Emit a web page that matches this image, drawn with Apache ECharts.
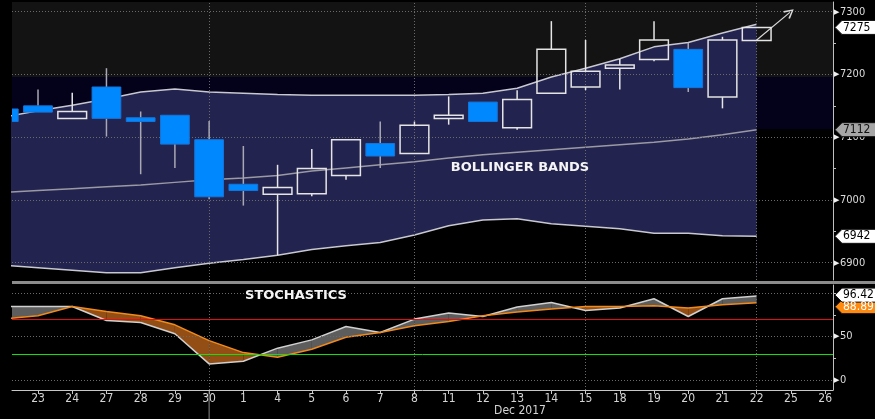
<!DOCTYPE html>
<html><head><meta charset="utf-8">
<script src="https://cdn.jsdelivr.net/npm/echarts@6/dist/echarts.min.js"></script>
<style>html,body{margin:0;padding:0;background:#000;}#c{width:875px;height:419px;}</style>
</head><body><div id="c"></div>
<script>
// ---- data (index 0 = 22 Nov 2017, partly outside the plot) ----
const dayLabels = ['22','23','24','27','28','29','30','1','4','5','6','7','8','11','12','13','14','15','18','19','20','21','22','25','26'];
const opens  = [7145,7150,7130,7180,7131,7135,7096,7025,7009,7010,7039,7090,7074,7130,7156,7115,7170,7180,7210,7224,7240,7164,7254];
const closes = [7125,7140,7141,7130,7125,7089,7005,7015,7020,7050,7096,7070,7119,7135,7125,7160,7240,7205,7215,7255,7179,7255,7275];
const lows   = [7120,7140,7130,7101,7041,7051,7001,6991,6912,7006,7032,7051,7074,7120,7125,7112,7170,7175,7176,7221,7172,7146,7254];
const highs  = [7150,7176,7171,7210,7141,7135,7126,7086,7056,7081,7096,7125,7125,7165,7156,7175,7285,7255,7225,7285,7250,7260,7275];
const bbUpper  = [7132,7142,7151,7161,7172,7177,7172,7170,7168,7167,7167,7167,7167,7168,7170,7178,7196,7210,7225,7244,7251,7266,7280];
const bbMiddle = [7012,7015,7018,7021,7024,7028,7032,7035,7039,7046,7051,7056,7061,7067,7072,7076,7080,7084,7088,7092,7097,7104,7112];
const bbLower  = [6896,6892,6888,6884,6884,6892,6899,6905,6912,6921,6927,6932,6944,6959,6968,6970,6962,6958,6954,6947,6947,6943,6942];
const stochK = [84.5,84.5,84.5,68.4,66.1,53.1,18.5,21.6,36.6,46.1,61.5,54.6,70,76.9,73,83.9,89.2,79.9,82.7,93.4,73,93.4,96.42];
const stochD = [70.4,73.8,84.5,78.8,73.8,63.4,45.3,31.5,26.2,35.4,49.2,54.6,62.3,67.2,73.8,78.1,81.5,84.5,84.5,85.4,82.7,86.5,88.89];
const priceTicks = [6900,7000,7100,7200,7300];
const priceMinorTicks = [6900,6950,7000,7050,7100,7150,7200,7250,7300];
const stochTicks = [0,50];
const stochMinorTicks = [0,25,50,75,100];
const stochGrid = [0,50,100];
const overbought = 70, oversold = 30;
const weekLines = [6,12,17,22];
const zoneLevels = [7113,7196];
const arrowFrom = [22,7255], arrowTo = [22.97,7299];
const labelIdx = [1,2,3,4,5,6,7,8,9,10,11,12,13,14,15,16,17,18,19,20,21,22,23,24];

const xMin = 0.24, xMax = 24.23;
const yMin = 6872.4, yMax = 7315.5;
const sMin = -11.5, sMax = 109.2;

const pairs = a => a.map((v,i)=>[i,v]);
const last = stochK.length-1;

const chart = echarts.init(document.getElementById('c'), null, {renderer:'canvas'});
const dotted = {type:[1,2], color:'#6a6a6a', width:1};
const fontY = 'DejaVu Sans Condensed, DejaVu Sans, sans-serif';
const fontX = 'Liberation Sans Narrow, DejaVu Sans Condensed, sans-serif';

const option = {
  backgroundColor:'#000',
  animation:false,
  grid:[
    {left:12, right:42, top:2, height:278},
    {left:12, right:42, top:285, height:105}
  ],
  xAxis:[
    {type:'value', gridIndex:0, min:xMin, max:xMax, show:false},
    {type:'value', gridIndex:1, min:xMin, max:xMax, splitLine:{show:false},
     axisLine:{show:true, onZero:false, lineStyle:{color:'#c8c8c8'}},
     axisTick:{show:true, customValues:labelIdx, length:4, lineStyle:{color:'#c8c8c8'}},
     axisLabel:{customValues:labelIdx, color:'#d4d4d4', fontSize:12, fontFamily:fontX, margin:3,
       formatter:v=>dayLabels[Math.round(v)]}}
  ],
  yAxis:[
    {type:'value', gridIndex:0, position:'right', min:yMin, max:yMax, splitLine:{show:false},
     axisLine:{show:true, lineStyle:{color:'#c0c0c0'}},
     axisTick:{show:true, customValues:priceMinorTicks, length:3, lineStyle:{color:'#c0c0c0'}},
     axisLabel:{customValues:priceTicks, margin:1, showMinLabel:true, showMaxLabel:true,
       formatter:v=>'{t|\u25B6}{v|'+v+'}',
       rich:{t:{fontSize:7, color:'#f0f0f0', padding:[0,1,0,0]}, v:{fontSize:11, fontFamily:fontY, color:'#dcdcdc'}}}},
    {type:'value', gridIndex:1, position:'right', min:sMin, max:sMax, splitLine:{show:false},
     axisLine:{show:true, lineStyle:{color:'#c0c0c0'}},
     axisTick:{show:true, customValues:stochMinorTicks, length:3, lineStyle:{color:'#c0c0c0'}},
     axisLabel:{customValues:stochTicks, margin:1, showMinLabel:true,
       formatter:v=>'{t|\u25B6}{v|'+v+'}',
       rich:{t:{fontSize:7, color:'#f0f0f0', padding:[0,1,0,0]}, v:{fontSize:11, fontFamily:fontY, color:'#dcdcdc'}}}}
  ],
  series:[
    {name:'zones', type:'line', xAxisIndex:0, yAxisIndex:0, z:0, data:pairs(bbMiddle), symbol:'none',
     lineStyle:{width:0, opacity:0}, silent:true,
     markArea:{silent:true, data:[
       [{yAxis:zoneLevels[1], itemStyle:{color:'#131313'}},{yAxis:yMax}],
       [{yAxis:zoneLevels[0], itemStyle:{color:'#03021a'}},{yAxis:zoneLevels[1]}]
     ]}},
    {name:'upper', type:'line', xAxisIndex:0, yAxisIndex:0, z:1, data:pairs(bbUpper), symbol:'none',
     lineStyle:{color:'#c8c8d0', width:1.5}, areaStyle:{color:'#23234f', opacity:1, origin:'start'}, silent:true},
    {name:'lower', type:'line', xAxisIndex:0, yAxisIndex:0, z:2, data:pairs(bbLower), symbol:'none',
     lineStyle:{color:'#c8c8d0', width:1.5}, areaStyle:{color:'#000', opacity:1, origin:'start'}, silent:true},
    {name:'middle', type:'line', xAxisIndex:0, yAxisIndex:0, z:3, data:pairs(bbMiddle), symbol:'none',
     lineStyle:{color:'#9a9aa4', width:1.5}, silent:true,
     markLine:{silent:true, symbol:['none','none'], label:{show:false}, lineStyle:dotted,
       data: priceTicks.map(v=>({yAxis:v})).concat(weekLines.map(v=>({xAxis:v})))}},
    {name:'candles', type:'custom', xAxisIndex:0, yAxisIndex:0, z:5, clip:true,
     data: opens.map((o,i)=>[i,o,closes[i],lows[i],highs[i]]),
     encode:{x:0, y:[1,2,3,4]},
     renderItem:(params, api)=>{
       const i=api.value(0), o=api.value(1), c=api.value(2), l=api.value(3), h=api.value(4);
       const x = api.coord([i,o])[0];
       const yo = api.coord([i,o])[1], yc = api.coord([i,c])[1];
       const yl = api.coord([i,l])[1], yh = api.coord([i,h])[1];
       const w = api.size([1,0])[0]*0.84;
       const up = c>=o;
       const top = Math.min(yo,yc), bot = Math.max(yo,yc);
       const wickCol = up ? '#e6e6e6' : '#a8a8b4';
       const ch = [];
       if (top-yh>0.5) ch.push({type:'line', shape:{x1:x,y1:yh,x2:x,y2:top}, style:{stroke:wickCol, lineWidth:1.5}});
       if (yl-bot>0.5) ch.push({type:'line', shape:{x1:x,y1:bot,x2:x,y2:yl}, style:{stroke:wickCol, lineWidth:1.5}});
       ch.push({type:'rect', shape:{x:x-w/2, y:top, width:w, height:Math.max(bot-top,2)},
         style: up ? {fill:'none', stroke:'#e4e4e4', lineWidth:1.5} : {fill:'#0088ff', stroke:'#1674d8', lineWidth:1}});
       return {type:'group', children:ch};
     }},
    {name:'arrow', type:'line', xAxisIndex:0, yAxisIndex:0, z:6, data:[], silent:true,
     markLine:{silent:true, symbol:['none','path://M5,0 L10,9 L8.6,10 L5,2.8 L1.4,10 L0,9 Z'], symbolSize:[10,10],
       label:{show:false}, lineStyle:{color:'#d8d8d8', width:1.2, type:'solid'},
       data:[[{coord:arrowFrom},{coord:arrowTo}]]}},
    {name:'stochFill', type:'custom', xAxisIndex:1, yAxisIndex:1, z:1, clip:true,
     data: stochK.slice(0,last).map((k,i)=>[i,k,stochD[i],stochK[i+1],stochD[i+1]]),
     encode:{x:0, y:[1,2,3,4]},
     renderItem:(params, api)=>{
       const i=api.value(0), k0=api.value(1), d0=api.value(2), k1=api.value(3), d1=api.value(4);
       const P=(x,y)=>api.coord([x,y]);
       const gray='rgba(150,150,150,0.62)', orange='rgba(196,104,30,0.75)';
       const e0=k0-d0, e1=k1-d1;
       const ch=[];
       if (e0*e1>=0) {
         const col = (e0+e1)>=0 ? gray : orange;
         ch.push({type:'polygon', shape:{points:[P(i,k0),P(i+1,k1),P(i+1,d1),P(i,d0)]}, style:{fill:col}});
       } else {
         const t=e0/(e0-e1), xc=i+t, yc=k0+(k1-k0)*t;
         ch.push({type:'polygon', shape:{points:[P(i,k0),P(xc,yc),P(i,d0)]}, style:{fill:e0>0?gray:orange}});
         ch.push({type:'polygon', shape:{points:[P(xc,yc),P(i+1,k1),P(i+1,d1)]}, style:{fill:e1>0?gray:orange}});
       }
       return {type:'group', children:ch};
     }},
    {name:'%K', type:'line', xAxisIndex:1, yAxisIndex:1, z:3, data:pairs(stochK), symbol:'none',
     lineStyle:{color:'#d0d0d0', width:1.5}, silent:true,
     markLine:{silent:true, symbol:['none','none'], label:{show:false}, lineStyle:dotted,
       data: stochGrid.map(v=>({yAxis:v})).concat(weekLines.map(v=>({xAxis:v})))
         .concat([{yAxis:overbought, lineStyle:{type:'solid', color:'#e01010', width:1}},
                  {yAxis:oversold, lineStyle:{type:'solid', color:'#10e010', width:1}}])}},
    {name:'%D', type:'line', xAxisIndex:1, yAxisIndex:1, z:4, data:pairs(stochD), symbol:'none',
     lineStyle:{color:'#f08a1c', width:1.5}, silent:true}
  ]
};
chart.setOption(option);

// value flags on the right axis, placed through the axis scales
function flag(val, yIdx, text, bg, fg, dy) {
  const y = chart.convertToPixel({yAxisIndex:yIdx}, val) + (dy||0);
  return [
    {type:'polygon', z:100, shape:{points:[[835,y],[842,y-7],[876,y-7],[876,y+7],[842,y+7]]},
     style:{fill:bg, stroke:'#111', lineWidth:1}},
    {type:'text', z:101, x:843, y:y, style:{text:text, fill:fg, font:'12px '+fontY, verticalAlign:'middle', align:'left'}}
  ];
}
const els = [];
els.push({type:'rect', z:90, shape:{x:12, y:281, width:863, height:3}, style:{fill:'#8c8c8c'}});
els.push(...flag(stochD[last], 1, stochD[last].toFixed(2), '#ff8a10', '#fff', 4));
els.push(...flag(stochK[last], 1, stochK[last].toFixed(2), '#ffffff', '#000', -1));
els.push(...flag(bbMiddle[last], 0, String(bbMiddle[last]), '#a6a6a6', '#111', 0));
els.push(...flag(closes[last], 0, String(closes[last]), '#ffffff', '#000', 0));
els.push(...flag(bbLower[last], 0, String(bbLower[last]), '#ffffff', '#000', 0));
els.push({type:'text', z:50, x:520, y:168, style:{text:'BOLLINGER BANDS', fill:'#f4f4f4', font:'bold 13px DejaVu Sans, sans-serif', align:'center', verticalAlign:'middle'}});
els.push({type:'text', z:50, x:296, y:296, style:{text:'STOCHASTICS', fill:'#f4f4f4', font:'bold 13px DejaVu Sans, sans-serif', align:'center', verticalAlign:'middle'}});
els.push({type:'text', z:50, x:520, y:411, style:{text:'Dec 2017', fill:'#d4d4d4', font:'12px '+fontX, align:'center', verticalAlign:'middle'}});
const xm = chart.convertToPixel({xAxisIndex:1}, weekLines[0]);
els.push({type:'line', z:50, shape:{x1:xm, y1:391, x2:xm, y2:419}, style:{stroke:'#8a8a8a', lineWidth:1}});
chart.setOption({graphic:{elements:els}});
</script></body></html>
